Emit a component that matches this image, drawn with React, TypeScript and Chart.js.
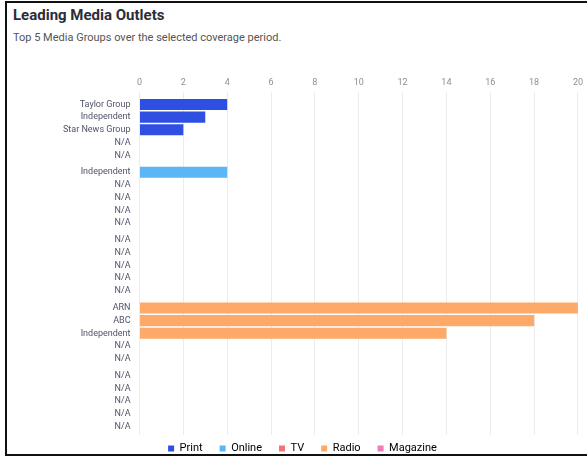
import React, { useEffect, useRef } from "react";
import { Chart, registerables } from "chart.js";

Chart.register(...registerables);

const mediaTypes = ["Print", "Online", "TV", "Radio", "Magazine"];
const typeColors = ["#2f4fe2", "#5cb5f5", "#f27474", "#fda96a", "#f07db6"];

const outletNames = [
  ["Taylor Group", "Independent", "Star News Group", "N/A", "N/A"],
  ["Independent", "N/A", "N/A", "N/A", "N/A"],
  ["N/A", "N/A", "N/A", "N/A", "N/A"],
  ["ARN", "ABC", "Independent", "N/A", "N/A"],
  ["N/A", "N/A", "N/A", "N/A", "N/A"],
];

const rank1 = [4, 4, null, 20, null];
const rank2 = [3, null, null, 18, null];
const rank3 = [2, null, null, 14, null];
const rank4 = [null, null, null, null, null];
const rank5 = [null, null, null, null, null];

const rankSeries = [rank1, rank2, rank3, rank4, rank5];
const rankLabels = ["Top 1", "Top 2", "Top 3", "Top 4", "Top 5"];

const xMin = 0;
const xMax = 20;
const xStep = 2;

const legendShift = {
  id: "legendShift",
  afterLayout(chart: any) {
    const lg = chart.legend;
    if (!lg) return;
    const h = lg.height;
    lg.top = chart.chartArea.bottom - 9;
    lg.bottom = lg.top + h;
  },
};

export default function App() {
  const ref = useRef<HTMLCanvasElement | null>(null);

  useEffect(() => {
    if (!ref.current) return;
    const chart = new Chart(ref.current, {
      type: "bar",
      data: {
        labels: mediaTypes,
        datasets: rankSeries.map((d, i) => ({
          label: rankLabels[i],
          data: d,
          backgroundColor: typeColors,
          borderWidth: 0,
          barPercentage: 0.88,
          categoryPercentage: 0.933,
        })),
      },
      plugins: [legendShift],
      options: {
        indexAxis: "y",
        animation: false,
        responsive: false,
        maintainAspectRatio: false,
        layout: { padding: { left: 26, right: 8, top: 0, bottom: 4 } },
        scales: {
          x: {
            position: "top",
            min: xMin,
            max: xMax,
            ticks: {
              stepSize: xStep,
              color: "#8f8f8f",
              font: { family: "Roboto", size: 9 },
              padding: 4,
            },
            grid: { color: "#ececec", tickLength: 4 },
            border: { display: false },
            afterFit: (s: any) => {
              s.height = 34;
            },
          },
          y: {
            ticks: {
              color: "#50536a",
              font: { family: "Roboto", size: 9, lineHeight: 12.75 / 9 },
              padding: 9,
              callback: (_v: any, i: number) => outletNames[i],
            },
            grid: { display: false, drawTicks: false },
            border: { display: false },
            afterFit: (s: any) => {
              s.width = 139.5 - 26;
            },
          },
        },
        plugins: {
          tooltip: { enabled: false },
          legend: {
            position: "bottom",
            labels: {
              boxWidth: 6,
              boxHeight: 6,
              padding: 17,
              color: "#6a6a6a",
              font: { family: "Roboto", size: 11 },
              generateLabels: () =>
                mediaTypes.map((t, i) => ({
                  text: t,
                  fillStyle: typeColors[i],
                  strokeStyle: typeColors[i],
                  lineWidth: 0,
                  hidden: false,
                  datasetIndex: i,
                })),
            },
          },
        },
      },
    });
    return () => chart.destroy();
  }, []);

  return (
    <div style={{ position: "absolute", left: 0, top: 0, width: 587, height: 459, background: "#fff", overflow: "hidden" }}>
      <div
        style={{
          position: "absolute",
          left: 5,
          top: 1,
          width: 640,
          height: 455,
          boxSizing: "border-box",
          border: "2px solid #111",
          borderRight: "none",
        }}
      />
      <div
        style={{
          position: "absolute",
          left: 13,
          top: 6,
          fontFamily: "Roboto",
          fontWeight: 700,
          fontSize: 15,
          lineHeight: "18px",
          color: "#2b2d38",
        }}
      >
        Leading Media Outlets
      </div>
      <div
        style={{
          position: "absolute",
          left: 13,
          top: 31,
          fontFamily: "Roboto",
          fontSize: 11,
          lineHeight: "14px",
          color: "#555",
        }}
      >
        Top 5 Media Groups over the selected coverage period.
      </div>
      <canvas ref={ref} width={587} height={422} style={{ position: "absolute", left: 0, top: 55, width: 587, height: 422 }} />
    </div>
  );
}
